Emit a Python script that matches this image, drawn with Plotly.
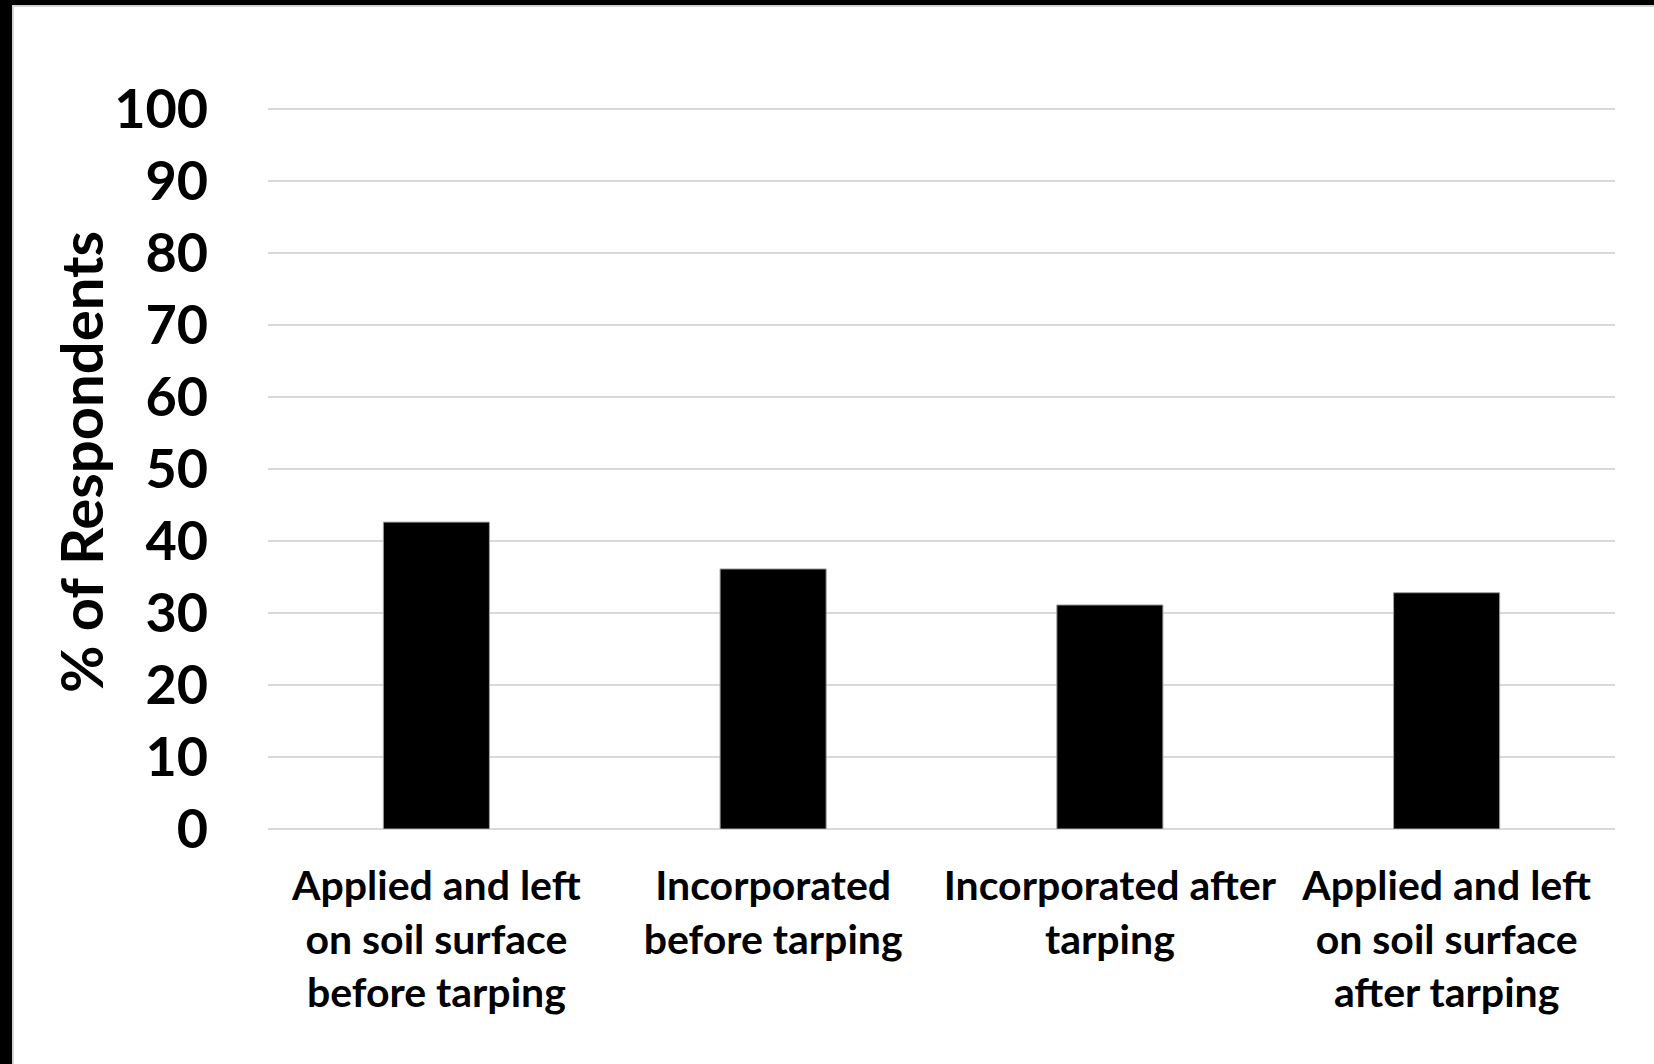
import plotly.graph_objects as go

categories = [
    "Applied and left<br>on soil surface<br>before tarping",
    "Incorporated<br>before tarping",
    "Incorporated after<br>tarping",
    "Applied and left<br>on soil surface<br>after tarping",
]
values = [42.6, 36.1, 31.1, 32.8]
y_ticks = [0, 10, 20, 30, 40, 50, 60, 70, 80, 90, 100]

W, H = 1654, 1064
ML, MR, MT, MB = 268, 39, 105, 235
PW, PH = W - ML - MR, H - MT - MB

def px(x):
    return (x - ML) / PW

def py(y):
    return (H - MB - y) / PH

FONT = "Lato"

fig = go.Figure(go.Bar(
    x=categories, y=values,
    marker=dict(color="black", line=dict(color="#a0a0a0", width=1)),
    hoverinfo="skip",
))

fig.update_layout(
    width=W, height=H,
    margin=dict(l=ML, r=MR, t=MT, b=MB),
    paper_bgcolor="white", plot_bgcolor="white",
    bargap=0.685,
    showlegend=False,
    font=dict(family=FONT, color="black", weight="bold"),
    xaxis=dict(
        tickfont=dict(size=41, family=FONT, weight="bold", color="black"),
        ticks="outside", ticklen=21, tickcolor="rgba(0,0,0,0)",
        showline=False, showgrid=False,
    ),
    yaxis=dict(
        range=[0, 100.5], tickvals=y_ticks,
        tickfont=dict(size=54, family=FONT, weight="bold", color="black"),
        showgrid=True, gridcolor="#d9d9d9", gridwidth=2,
        zeroline=True, zerolinecolor="#d9d9d9", zerolinewidth=2,
        ticks="outside", ticklen=48, tickcolor="rgba(0,0,0,0)",
        showline=False,
    ),
    annotations=[dict(
        text="% of Respondents", textangle=-90,
        xref="paper", yref="paper", x=px(80), y=py(462),
        xanchor="center", yanchor="middle", showarrow=False,
        font=dict(size=58, family=FONT, weight="bold", color="black"),
    )],
    shapes=[
        dict(type="rect", xref="paper", yref="paper", x0=px(0), x1=px(W), y0=py(5), y1=py(0),
             fillcolor="black", line=dict(width=0), layer="above"),
        dict(type="rect", xref="paper", yref="paper", x0=px(0), x1=px(12), y0=py(H), y1=py(0),
             fillcolor="black", line=dict(width=0), layer="above"),
        dict(type="rect", xref="paper", yref="paper", x0=px(12), x1=px(W), y0=py(7), y1=py(5),
             fillcolor="#d4d4d4", line=dict(width=0), layer="above"),
        dict(type="rect", xref="paper", yref="paper", x0=px(12), x1=px(14), y0=py(H), y1=py(5),
             fillcolor="#d4d4d4", line=dict(width=0), layer="above"),
    ],
)

fig.write_html("out.html", config={"displayModeBar": False},
               post_script="document.body.style.margin='0';")
